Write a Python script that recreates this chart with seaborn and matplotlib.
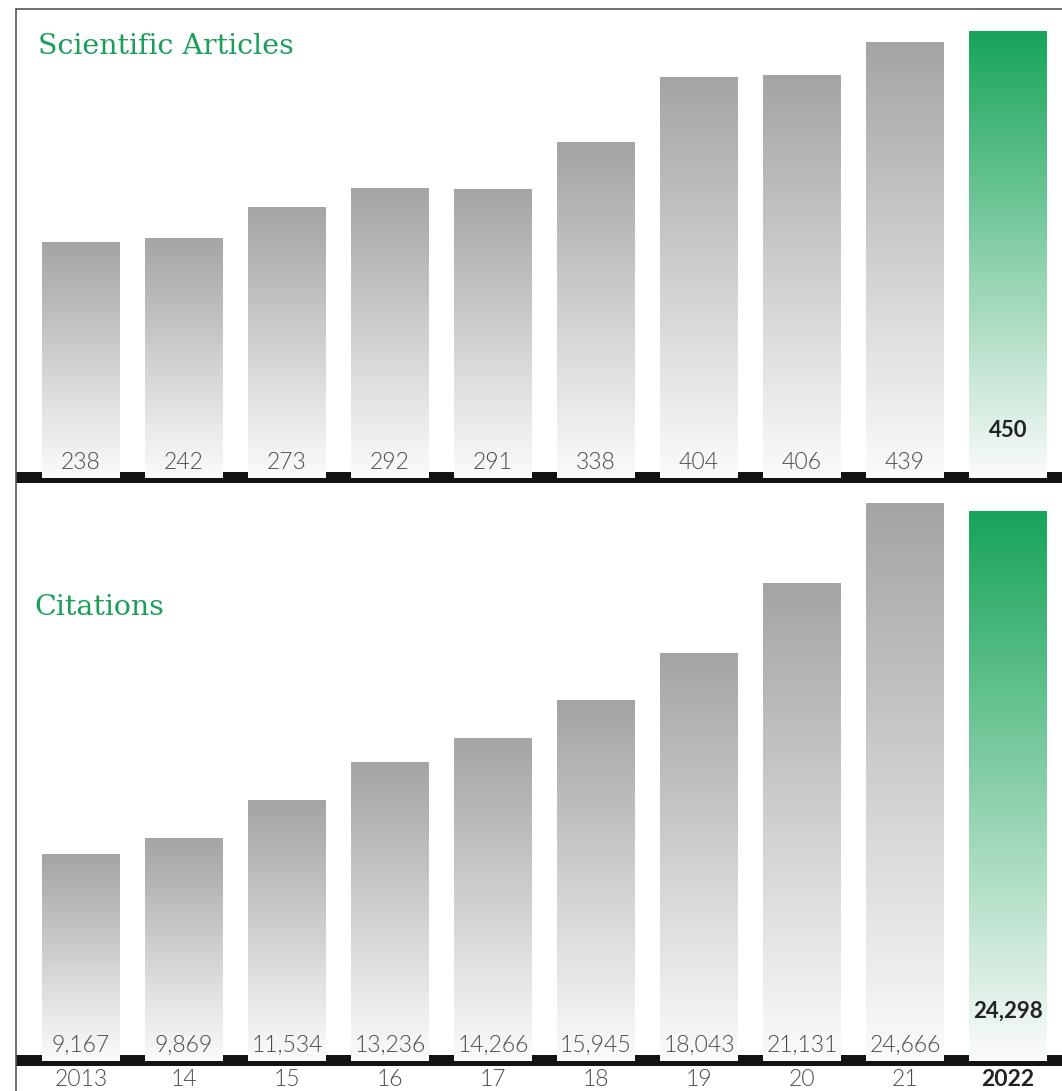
import seaborn as sns
import matplotlib.pyplot as plt
import numpy as np
from matplotlib.colors import LinearSegmentedColormap
from matplotlib.lines import Line2D

# data
years = ["2013", "14", "15", "16", "17", "18", "19", "20", "21", "2022"]
articles = [238, 242, 273, 292, 291, 338, 404, 406, 439, 450]
citations = [9167, 9869, 11534, 13236, 14266, 15945, 18043, 21131, 24666, 24298]
article_labels = ["238", "242", "273", "292", "291", "338", "404", "406", "439", "450"]
citation_labels = ["9,167", "9,869", "11,534", "13,236", "14,266", "15,945",
                   "18,043", "21,131", "24,666", "24,298"]

GRAY = "#a3a5a2"
GREEN = "#17a458"
TITLE_GREEN = "#1a9e58"
top_colors = [GRAY] * 9 + [GREEN]

sns.set_style("white")
plt.rcParams["font.family"] = ["Lato", "DejaVu Sans"]

W, H = 1062, 1091
fig = plt.figure(figsize=(W / 100, H / 100), dpi=100)


def px_axes(x0, y0, x1, y1):
    # pixel box (top-left origin) -> figure axes
    return fig.add_axes([x0 / W, 1 - y1 / H, (x1 - x0) / W, (y1 - y0) / H])


def fill_gradient(ax, bars, colors):
    grad = np.linspace(0, 1, 256).reshape(-1, 1)
    for bar, c in zip(bars, colors):
        x0, y0 = bar.get_x(), bar.get_y()
        w, h = bar.get_width(), bar.get_height()
        cmap = LinearSegmentedColormap.from_list("g", ["#fbfbfb", c])
        im = ax.imshow(grad, extent=(x0, x0 + w, y0, y0 + h), origin="lower",
                       cmap=cmap, aspect="auto", zorder=2, interpolation="bilinear")
        im.set_clip_path(bar)
        bar.set_facecolor("none")
        bar.set_edgecolor("none")


xlim = (-0.631, 9.524)
bw = 0.757
LIGHT = 300
LABEL_GRAY = "#4a4a4a"

# ---- top panel: scientific articles
ax1 = px_axes(16, 9, W, 484)
sns.barplot(x=years, y=articles, ax=ax1, width=bw, color=GRAY, saturation=1)
fill_gradient(ax1, ax1.patches, top_colors)
ax1.axhspan(-5, 6, color="#111314", zorder=1, lw=0)
ax1.set_xlim(*xlim)
ax1.set_ylim(-6, 472)
for i, lab in enumerate(article_labels):
    if i == 9:
        ax1.text(i, 48, lab, ha="center", va="center", fontsize=16,
                 fontweight="bold", color="#222222", zorder=3)
    else:
        ax1.text(i, 16, lab, ha="center", va="center", fontsize=16.5,
                 fontweight=LIGHT, color=LABEL_GRAY, zorder=3)
ax1.text(0.021, 0.92, "Scientific Articles", transform=ax1.transAxes,
         fontsize=20.5, color=TITLE_GREEN, family="DejaVu Serif", va="center")

# ---- bottom panel: citations
upx = 44.2  # units per pixel
ax2 = px_axes(16, 484, W, H)
sns.barplot(x=years, y=citations, ax=ax2, width=bw, color=GRAY, saturation=1)
fill_gradient(ax2, ax2.patches, top_colors)
ax2.axhspan(-5 * upx, 6 * upx, color="#111314", zorder=1, lw=0)
ax2.set_xlim(*xlim)
ax2.set_ylim(-30 * upx, (1061 - 484) * upx)
for i, lab in enumerate(citation_labels):
    if i == 9:
        ax2.text(i, 50 * upx, lab, ha="center", va="center", fontsize=16,
                 fontweight="bold", color="#222222", zorder=3)
    else:
        ax2.text(i, 16 * upx, lab, ha="center", va="center", fontsize=16.5,
                 fontweight=LIGHT, color=LABEL_GRAY, zorder=3)
    ax2.text(i, -19 * upx, years[i], ha="center", va="center", fontsize=16.5,
             fontweight="bold" if i == 9 else LIGHT,
             color="#222222" if i == 9 else LABEL_GRAY)
ax2.text(0.018, 0.797, "Citations", transform=ax2.transAxes,
         fontsize=20.5, color=TITLE_GREEN, family="DejaVu Serif", va="center")

for ax in (ax1, ax2):
    ax.set_xticks([])
    ax.set_yticks([])
    ax.set_xlabel("")
    ax.set_ylabel("")
    for s in ax.spines.values():
        s.set_visible(False)

# frame: top and left border lines
fig.add_artist(Line2D([16 / W, 1], [1 - 9 / H, 1 - 9 / H], color="#555555", lw=1.2))
fig.add_artist(Line2D([16 / W, 16 / W], [0, 1 - 9 / H], color="#555555", lw=1.2))

fig.savefig("out.png", dpi=100)
